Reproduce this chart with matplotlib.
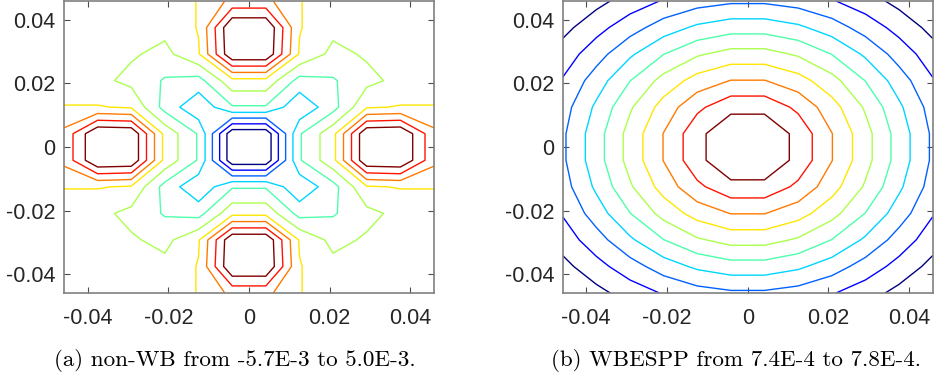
import numpy as np
import matplotlib
matplotlib.use("Agg")
import matplotlib.pyplot as plt
from matplotlib import cm

plt.rcParams["axes.unicode_minus"] = False

# ---------------- data ----------------
# grid node coordinates of one half (cell centres of [-0.05, 0.05], 12 cells)
half_nodes = [-0.045833, -0.0375, -0.029167, -0.020833, -0.0125, -0.004167]

# (a) non-WB field, units of 1e-3, upper-left quadrant (rows: top -> centre, cols: left -> centre)
quad_a = [
    [0.50, 0.55, 0.50, 0.42, 1.05, 2.27],
    [0.55, 0.45, 0.35, 0.30, 1.06, 5.00],
    [0.50, 0.35, 0.13, -0.30, 0.90, 4.90],
    [0.42, 0.30, -0.30, -1.10, -1.37, 0.70],
    [1.05, 1.06, 0.90, -1.37, -2.80, -1.10],
    [2.27, 5.00, 4.90, 0.70, -1.10, -5.72],
]
levels_a = [-5, -4, -3, -2, -1, 0, 1, 2, 3, 4]

# (b) WBESPP field, contour-level units, upper-left quadrant
quad_b = [
    [-0.19, 0.685, 1.45, 2.08, 2.57, 2.83],
    [0.685, 1.65, 2.57, 3.49, 4.19, 4.57],
    [1.45, 2.57, 3.83, 4.98, 5.87, 6.36],
    [2.08, 3.49, 4.98, 6.36, 7.41, 8.03],
    [2.57, 4.19, 5.87, 7.41, 8.77, 9.70],
    [2.83, 4.57, 6.36, 8.03, 9.70, 10.84],
]
levels_b = [1, 2, 3, 4, 5, 6, 7, 8, 9, 10]

ticks = [-0.04, -0.02, 0, 0.02, 0.04]
tick_labels = ["-0.04", "-0.02", "0", "0.02", "0.04"]
captions = ["(a) non-WB from -5.7E-3 to 5.0E-3.",
            "(b) WBESPP from 7.4E-4 to 7.8E-4."]


def full_field(quad):
    q = np.array(quad, dtype=float)
    top = np.hstack([q, q[:, ::-1]])
    full_top_down = np.vstack([top, top[::-1, :]])
    return full_top_down[::-1, :]  # rows now ascending in y


coords = np.array(half_nodes + [-v for v in half_nodes[::-1]])
lim = coords[-1]

W, H = 951, 385
fig = plt.figure(figsize=(W / 100, H / 100), dpi=100)

ax_boxes = [(64, 1, 434, 293), (562.7, 1, 932.7, 293)]
fields = [full_field(quad_a), full_field(quad_b)]
levels = [levels_a, levels_b]
cap_x = [235, 736]

line_colors = [cm.jet(i / 9.0) for i in range(10)]

for k in range(2):
    x0, y0, x1, y1 = ax_boxes[k]
    ax = fig.add_axes([x0 / W, 1 - y1 / H, (x1 - x0) / W, (y1 - y0) / H])
    ax.contour(coords, coords, fields[k], levels=levels[k],
               colors=line_colors, linewidths=1.0)
    ax.set_xlim(-lim, lim)
    ax.set_ylim(-lim, lim)
    ax.set_xticks(ticks)
    ax.set_xticklabels(tick_labels)
    ax.set_yticks(ticks)
    ax.set_yticklabels(tick_labels)
    ax.tick_params(direction="in", length=4, width=0.8, color="0.3",
                   top=True, right=True, labelsize=15.5, labelcolor="#262626")
    ax.tick_params(axis="x", pad=11)
    ax.tick_params(axis="y", pad=6)
    for lab in ax.get_xticklabels() + ax.get_yticklabels():
        lab.set_fontfamily("Liberation Sans")
    for s in ax.spines.values():
        s.set_color("0.5")
        s.set_linewidth(1.2)
    fig.text(cap_x[k] / W, 1 - 361 / H, captions[k], ha="center", va="center",
             fontsize=16.6, fontfamily="cmr10")

fig.savefig("out.png", dpi=100)
